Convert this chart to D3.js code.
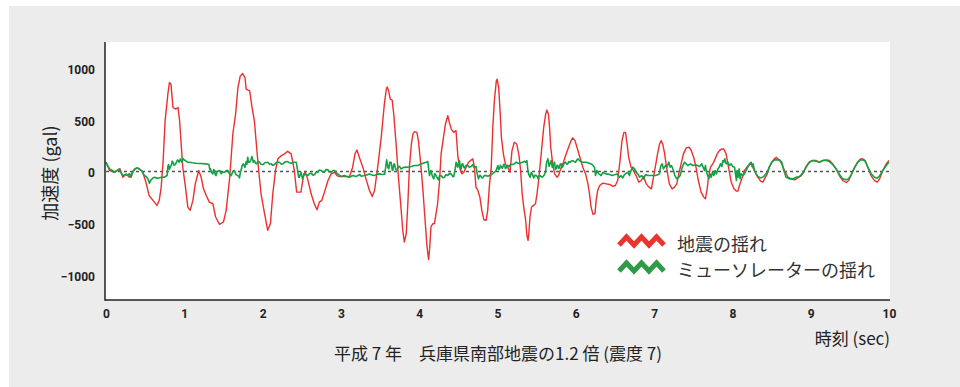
<!DOCTYPE html>
<html>
<head>
<meta charset="utf-8">
<script src="https://cdn.jsdelivr.net/npm/d3@7"></script>
<style>
  html, body { margin: 0; padding: 0; background: #ffffff; }
  svg { display: block; }
  .tick text { font-family: Roboto, "DejaVu Sans", sans-serif; font-weight: 700; font-size: 12px; fill: #222; }
  .jp { font-family: "Noto Sans CJK JP", sans-serif; fill: #222; }
</style>
</head>
<body>
<svg id="chart" width="960" height="387"></svg>
<script>
// Ground motion: 1995 Hyogo-ken Nanbu earthquake scaled x1.2 (seconds, gal)
const quakeTime = [0, 0.045, 0.11, 0.15, 0.18, 0.215, 0.26, 0.30, 0.34, 0.385, 0.43, 0.47, 0.51, 0.55, 0.60, 0.65, 0.68, 0.705, 0.73, 0.755, 0.79, 0.81, 0.83, 0.855, 0.89, 0.92, 0.94, 0.96, 0.98, 1.015, 1.045, 1.075, 1.11, 1.14, 1.185, 1.215, 1.245, 1.28, 1.32, 1.365, 1.40, 1.45, 1.50, 1.535, 1.58, 1.62, 1.655, 1.685, 1.715, 1.745, 1.775, 1.79, 1.835, 1.865, 1.895, 1.92, 1.95, 1.98, 2.025, 2.065, 2.10, 2.13, 2.165, 2.195, 2.24, 2.28, 2.32, 2.365, 2.405, 2.435,
  2.49, 2.525, 2.545, 2.575, 2.62, 2.66, 2.695, 2.725, 2.755, 2.79, 2.835, 2.875, 2.92, 2.95, 2.98, 3.11, 3.15, 3.18, 3.205, 3.235, 3.28, 3.32, 3.365, 3.40, 3.43, 3.47, 3.515, 3.535, 3.555, 3.58, 3.59, 3.61, 3.63, 3.655, 3.675, 3.705, 3.735, 3.77, 3.79, 3.81, 3.835, 3.855, 3.875, 3.90, 3.92, 3.94, 3.97, 3.99, 4.015, 4.045, 4.075, 4.10, 4.12, 4.135, 4.15, 4.175, 4.195, 4.215, 4.235, 4.26, 4.28, 4.31, 4.335, 4.365, 4.385, 4.41, 4.44, 4.47, 4.495, 4.515, 4.545, 4.57, 4.60, 4.63, 4.655, 4.685, 4.705, 4.725, 4.75, 4.775, 4.80, 4.825, 4.855, 4.875, 4.895,
  4.92, 4.94, 4.96, 4.985, 4.995, 5.015, 5.035, 5.05, 5.075, 5.10, 5.13, 5.16, 5.185, 5.215, 5.245, 5.275, 5.295, 5.315, 5.335, 5.36, 5.375, 5.39, 5.40, 5.415, 5.435, 5.46, 5.485, 5.505, 5.53, 5.55, 5.57, 5.59, 5.615, 5.63, 5.65, 5.665, 5.68, 5.705, 5.73, 5.76, 5.78, 5.80, 5.835, 5.87, 5.91, 5.94, 5.96, 5.99, 6.015, 6.045, 6.09, 6.125, 6.155, 6.175, 6.195, 6.22, 6.245, 6.26, 6.28, 6.305, 6.345, 6.39, 6.43, 6.475, 6.505, 6.535, 6.565, 6.59, 6.615, 6.635, 6.655, 6.675, 6.705, 6.735, 6.77, 6.805, 6.835, 6.865, 6.90, 6.935, 6.965, 6.985, 7.015, 7.04, 7.07, 7.09, 7.11, 7.135, 7.165, 7.195, 7.23, 7.26, 7.29, 7.315, 7.345, 7.375, 7.41,
  7.45, 7.475, 7.505, 7.535, 7.565, 7.60, 7.635, 7.655, 7.675, 7.695, 7.72, 7.75, 7.78, 7.805, 7.835, 7.865, 7.89, 7.92, 7.95, 7.985, 8.02, 8.05, 8.07, 8.09, 8.12, 8.155, 8.19, 8.22, 8.24, 8.26, 8.29, 8.325, 8.36, 8.39, 8.41, 8.445, 8.475, 8.505, 8.535, 8.56, 8.58, 8.605, 8.63, 8.665, 8.71, 8.75, 8.795, 8.835, 8.88, 8.91, 8.94, 8.985, 9.03, 9.07, 9.11, 9.155, 9.20, 9.24, 9.28, 9.325, 9.365, 9.41, 9.455, 9.485, 9.515, 9.56, 9.60, 9.635, 9.665, 9.695, 9.73, 9.77, 9.815, 9.85, 9.88, 9.92, 9.965, 10];
const quakeAccel = [90, 10, -7, 10, 25, -55, -23, -55, -7, 35, 25, -7, -103, -231, -279, -327, -279, -151, 106, 490, 747, 859, 843, 618, 602, 618, 490, 266, 42, -151, -343, -375, -279, -119, 10, -55, -167, -231, -295, -311, -439, -510, -487, -375, -55, 362, 554, 811, 923, 945, 907, 795, 779, 618, 490, 266, 10, -215, -407, -567, -503, -215, 10, 122, 154, 170, 195, 170, 10, -199,
  -199, -23, -7, -71, -215, -311, -369, -295, -279, -199, -87, -23, -7, -39, -48, -48, 42, 170, 208, 138, 42, -71, -183, -241, -183, 42, 330, 490, 651, 795, 817, 779, 699, 689, 554, 266, -55, -375, -567, -680, -599, -311, 42, 266, 362, 385, 378, 298, 106, -151, -471, -728, -850, -728, -535, -503, -503, -407, -311, -87, 170, 330, 458, 538, 474, 410, 378, 394, 138, 42, -23, -7, 42, 90, 106, 122, 42, -151, -183, -247, -375, -465, -471, -375, -151,
  42, 426, 683, 875, 891, 811, 554, 330, 170, 74, 42, -7, 202, 282, 266, 154, 10, -215, -343, -471, -615, -664, -599, -439, -343, -327, -311, -215, -55, 106, 266, 426, 554, 593, 554, 426, 234, 74, -23, -55, -39, 10, 74, 154, 240, 298, 324, 298, 234, 154, 42, -23, -119, -215, -343, -413, -407, -279, -183, -135, -112, -119, -125, -144, -135, -87, 106, 298, 378, 378, 266, 138, 42, 10, -39, -103, -87, -48, -119, -151, -167, -87, 42, 154, 266, 298, 266, 170, 10, -119, -167, -151, -119, -23, 74, 170, 228,
  234, 202, 138, 42, -87, -199, -247, -263, -183, -55, 42, 74, 122, 170, 202, 218, 218, 170, 42, -103, -167, -189, -189, -135, -71, 10, 48, 67, 74, 42, -7, -55, -93, -103, -71, -23, 48, 90, 122, 138, 122, 106, 74, 10, -55, -71, -80, -61, -39, -7, 48, 96, 106, 106, 90, 106, 112, 106, 74, 25, -39, -87, -106, -87, -39, 42, 90, 122, 122, 106, 42, -39, -87, -103, -71, 10, 74, 106];

// Response on the seismic-isolated floor (seconds, gal)
const isolatorTime = [0, 0.02, 0.045, 0.08, 0.11, 0.14, 0.17, 0.19, 0.215, 0.25, 0.28, 0.30, 0.32, 0.345, 0.365, 0.385, 0.405, 0.43, 0.45, 0.47, 0.49, 0.515, 0.535, 0.555, 0.575, 0.59, 0.605, 0.62, 0.65, 0.68, 0.71, 0.745, 0.78, 0.79, 0.80, 0.81, 0.82, 0.835, 0.845, 0.855, 0.87, 0.89, 0.905, 0.915, 0.935, 0.95, 0.96, 0.97, 0.98, 1.0, 1.015, 1.04, 1.065, 1.10, 1.15, 1.20, 1.28, 1.315, 1.325, 1.335, 1.35, 1.365, 1.375, 1.385, 1.395, 1.405, 1.42, 1.45, 1.47, 1.49, 1.515, 1.535, 1.555, 1.575, 1.60, 1.62, 1.64, 1.66, 1.685, 1.705, 1.715, 1.725, 1.74, 1.755, 1.775, 1.79, 1.80, 1.81, 1.82, 1.835, 1.85, 1.865, 1.88, 1.895, 1.91, 1.925, 1.94, 1.96, 1.98, 2.005, 2.03, 2.065, 2.09, 2.11, 2.13, 2.15, 2.18, 2.215, 2.24, 2.26, 2.29, 2.32, 2.34, 2.365, 2.40, 2.43, 2.445, 2.46,
  2.47, 2.49, 2.51, 2.535, 2.56, 2.58, 2.60, 2.62, 2.645, 2.665, 2.685, 2.705, 2.725, 2.748, 2.77, 2.79, 2.81, 2.833, 2.855, 2.875, 2.90, 2.918, 2.94, 2.96, 3.0, 3.046, 3.08, 3.11, 3.15, 3.195, 3.24, 3.26, 3.30, 3.34, 3.365, 3.40, 3.43, 3.46, 3.49, 3.53, 3.56, 3.585, 3.60, 3.612, 3.625, 3.641, 3.655, 3.663, 3.675, 3.684, 3.70, 3.718, 3.735, 3.748, 3.77, 3.80, 3.854, 3.90, 3.94, 3.982, 4.03, 4.07, 4.089, 4.11, 4.131, 4.15, 4.17, 4.186, 4.20, 4.216, 4.23, 4.246, 4.26, 4.28, 4.30, 4.323, 4.34, 4.365, 4.385, 4.408, 4.43, 4.442, 4.46, 4.472, 4.48, 4.493, 4.50, 4.514, 4.525, 4.536, 4.545, 4.557, 4.57, 4.578, 4.60, 4.621, 4.64, 4.663, 4.685, 4.70, 4.727, 4.74, 4.757, 4.77, 4.782, 4.80, 4.812, 4.83, 4.855, 4.876, 4.897, 4.919,
  4.932, 4.962, 4.983, 5.004, 5.015, 5.026, 5.036, 5.047, 5.06, 5.068, 5.08, 5.09, 5.10, 5.111, 5.125, 5.132, 5.153, 5.165, 5.187, 5.217, 5.239, 5.26, 5.281, 5.30, 5.324, 5.345, 5.36, 5.375, 5.388, 5.40, 5.417, 5.43, 5.443, 5.464, 5.48, 5.494, 5.51, 5.519, 5.53, 5.545, 5.56, 5.57, 5.592, 5.613, 5.625, 5.643, 5.66, 5.686, 5.70, 5.728, 5.74, 5.749, 5.76, 5.771, 5.78, 5.792, 5.80, 5.813, 5.825, 5.835, 5.85, 5.869, 5.885, 5.898, 5.91, 5.928, 5.94, 5.962, 5.98, 5.996, 6.013, 6.026, 6.047, 6.081, 6.133, 6.175, 6.209, 6.239, 6.252, 6.269, 6.282, 6.294, 6.31, 6.324, 6.345, 6.37, 6.388, 6.41, 6.431, 6.465, 6.494, 6.528, 6.545, 6.558, 6.579, 6.59, 6.601, 6.62, 6.635, 6.665, 6.686, 6.70, 6.728, 6.75, 6.771, 6.792, 6.814, 6.83, 6.843, 6.865, 6.89, 6.92, 6.963, 7.014, 7.048, 7.069, 7.082, 7.09, 7.103, 7.12, 7.146, 7.163, 7.188, 7.205, 7.222, 7.248, 7.265, 7.29, 7.316, 7.333, 7.359, 7.388,
  7.409, 7.431, 7.465, 7.494, 7.537, 7.58, 7.609, 7.626, 7.643, 7.656, 7.669, 7.686, 7.699, 7.716, 7.729, 7.746, 7.763, 7.78, 7.797, 7.814, 7.831, 7.848, 7.865, 7.878, 7.89, 7.903, 7.92, 7.941, 7.963, 7.984, 8.005, 8.027, 8.039, 8.052, 8.061, 8.073, 8.086, 8.099, 8.112, 8.133, 8.154, 8.176, 8.197, 8.218, 8.239, 8.252, 8.265, 8.282, 8.303, 8.325, 8.359, 8.388, 8.41, 8.444, 8.473, 8.503, 8.537, 8.571, 8.605, 8.631, 8.657, 8.686, 8.729, 8.772, 8.814, 8.857, 8.899, 8.942, 8.984, 9.027, 9.07, 9.112, 9.155, 9.197, 9.24, 9.282, 9.325, 9.367, 9.41, 9.453, 9.482, 9.516, 9.559, 9.602, 9.636, 9.666, 9.695, 9.729, 9.772, 9.815, 9.849, 9.878, 9.921, 9.964, 10];
const isolatorAccel = [90, 60, 25, 10, -7, 10, 25, -10, -39, -30, -39, -20, -55, 0, 25, 30, 35, 20, 10, -10, -39, -50, -71, -112, -80, -71, -60, -55, -65, -61, -55, -55, -39, 50, 67, 20, 42, 60, 100, 90, 60, 74, 100, 112, 90, 120, 106, 90, 128, 110, 106, 90, 90, 85, 80, 78, 74, 67, 20, 25, -10, -23, 20, 10, -30, -39, 0, 10, -20, -5, -7, 10, 10, -20, -39, 0, 10, -30, -39, -61, -10, 10, 60, 74, 40, 96, 70, 138, 90, 90, 110, 144, 90, 106, 80, 74, 100, 90, 70, 67, 85, 90, 70, 74, 60, 67, 90, 90, 70, 74, 95, 96, 85, 80, 90, 90, 20, -55,
  -55, -7, -71, -23, -30, -39, -20, -16, -35, -29, -5, -7, 15, 10, -5, -7, 20, 16, -5, -7, 10, 10, -15, -23, -48, -39, -50, -55, -39, -48, -29, -45, -39, -30, -23, -35, -39, -25, -23, -29, -25, 112, 40, 25, 90, 90, 15, 10, 70, 74, 20, 16, 50, 48, 25, 40, 42, 48, 58, 58, 74, 85, 90, 96, -39, 10, -50, -71, -20, -39, -60, -80, -40, -39, -60, -55, -30, -39, -20, -23, -50, -48, 30, 90, 60, 42, 80, 106, 40, 25, 70, 74, 40, 35, 60, 58, 40, 48, 67, 40, 48, -20, -71, -40, -39, -60, -61, -40, -39, -45, -39, -32,
  -23, -7, 10, 58, 20, 25, 60, 48, 30, 42, 70, 64, 30, 35, 60, 58, 48, 70, 67, 74, 90, 80, 80, 85, 90, 99, 90, 106, 10, -30, -55, -10, -23, -61, -35, -39, -50, -71, -40, -39, -50, -55, -39, -7, 80, 122, 50, 106, 40, 90, 20, 25, 60, 58, 30, 35, 70, 74, 40, 48, 80, 90, 70, 74, 95, 90, 100, 106, 95, 90, 110, 122, 106, 90, 90, 80, 67, 42, -39, 10, -10, -23, -30, -39, -7, -20, -23, -25, -29, -39, -32, -23, -40, -55, -39, -55, -61, -30, -23, -7, -39, 0, 42, 25, -7, -23, -55, -45, -39, -71, -29, -39, -39, -39, -32, -23, 42, 60, 74, 25, 58, 42, 90, 42, 58, 10, -39, -71, -55, -39, 42, 90,
  74, 58, 74, 58, 64, 48, 74, 42, 10, 58, -7, -39, -71, -23, -55, -7, -39, 10, -23, 25, 42, 74, 48, 106, 90, 122, 74, 90, 58, 74, 48, 42, -23, -87, 10, -55, 25, -71, -23, -39, -23, 10, 42, 74, 90, 48, 74, 10, -23, -48, -61, -55, -39, -7, 48, 90, 112, 115, 112, 90, 10, -55, -71, -71, -55, -48, -16, 42, 90, 106, 99, 90, 106, 106, 96, 67, 25, -29, -71, -80, -71, -32, 35, 90, 112, 115, 99, 42, -23, -55, -64, -45, 10, 58, 90];

const yTicks = [-1000, -500, 0, 500, 1000];
const xTicks = [0, 1, 2, 3, 4, 5, 6, 7, 8, 9, 10];
const seriesNames = ["地震の揺れ", "ミューソレーターの揺れ"];
const yTitle = "加速度 (gal)";
const xTitle = "時刻 (sec)";
const caption = "平成 7 年　兵庫県南部地震の1.2 倍 (震度 7)";

const quake = quakeTime.map((t, i) => ({ t, v: quakeAccel[i] }));
const isolator = isolatorTime.map((t, i) => ({ t, v: isolatorAccel[i] }));

const svg = d3.select("#chart");
const plot = { left: 105, right: 890, top: 42, bottom: 300 };

// backgrounds
svg.append("rect").attr("x", 9).attr("y", 6).attr("width", 951).attr("height", 381).attr("fill", "#ececec");
svg.append("rect").attr("x", plot.left).attr("y", plot.top)
  .attr("width", plot.right - plot.left).attr("height", plot.bottom - plot.top).attr("fill", "#ffffff");

const x = d3.scaleLinear().domain([0, 10]).range([106, 889]);
const y = d3.scaleLinear().domain([-1240, 1250]).range([plot.bottom, plot.top]);

// zero reference line
svg.append("line")
  .attr("x1", x(0)).attr("x2", plot.right)
  .attr("y1", y(0)).attr("y2", y(0))
  .attr("stroke", "#555").attr("stroke-width", 1.3).attr("stroke-dasharray", "3,3");

const line = d3.line().x(d => x(d.t)).y(d => y(d.v)).curve(d3.curveLinear);

svg.append("path").datum(quake).attr("d", line)
  .attr("fill", "none").attr("stroke", "#ec2f2f").attr("stroke-width", 1.4).attr("stroke-linejoin", "round");
svg.append("path").datum(isolator).attr("d", line)
  .attr("fill", "none").attr("stroke", "#12a245").attr("stroke-width", 1.6).attr("stroke-linejoin", "round");

// axes
const yAxis = d3.axisLeft(y).tickValues(yTicks).tickSize(0).tickPadding(10).tickFormat(d3.format("d"));
const gy = svg.append("g").attr("transform", `translate(${plot.left},0)`).call(yAxis);
gy.select(".domain").remove();
gy.selectAll(".tick text").attr("dy", "0.45em");

const xAxis = d3.axisBottom(x).tickValues(xTicks).tickSize(0).tickPadding(9).tickFormat(d3.format("d"));
const gx = svg.append("g").attr("transform", `translate(0,${plot.bottom})`).call(xAxis);
gx.select(".domain").remove();

svg.append("line").attr("x1", plot.left).attr("x2", plot.left).attr("y1", plot.top).attr("y2", plot.bottom + 0.75)
  .attr("stroke", "#222").attr("stroke-width", 1.5);
svg.append("line").attr("x1", plot.left).attr("x2", plot.right).attr("y1", plot.bottom).attr("y2", plot.bottom)
  .attr("stroke", "#222").attr("stroke-width", 1.5);

// titles
svg.append("text").attr("class", "jp")
  .attr("transform", "translate(49,173) rotate(-90)")
  .attr("text-anchor", "middle").attr("dominant-baseline", "central")
  .attr("font-size", 18).text(yTitle);

svg.append("text").attr("class", "jp")
  .attr("x", 890).attr("y", 337).attr("text-anchor", "end").attr("dominant-baseline", "central")
  .attr("font-size", 17).text(xTitle);

svg.append("text").attr("class", "jp")
  .attr("x", 498).attr("y", 352).attr("text-anchor", "middle").attr("dominant-baseline", "central")
  .attr("font-size", 17).text(caption);

// legend
const legendColors = ["#e8352f", "#2f9a48"];
const zig = d3.line();
const zigPts = [[0, 5], [7.5, -3], [15, 5], [22.5, -3], [30, 5], [37.5, -3], [45, 5]];
seriesNames.forEach((name, i) => {
  const g = svg.append("g").attr("transform", `translate(619,${240 + i * 26})`);
  g.append("path").attr("d", zig(zigPts)).attr("fill", "none")
    .attr("stroke", legendColors[i]).attr("stroke-width", 5).attr("stroke-linejoin", "miter");
  g.append("text").attr("class", "jp").attr("x", 58).attr("y", 3)
    .attr("dominant-baseline", "central").attr("font-size", 18).style("fill", "#333").text(name);
});
</script>
</body>
</html>
